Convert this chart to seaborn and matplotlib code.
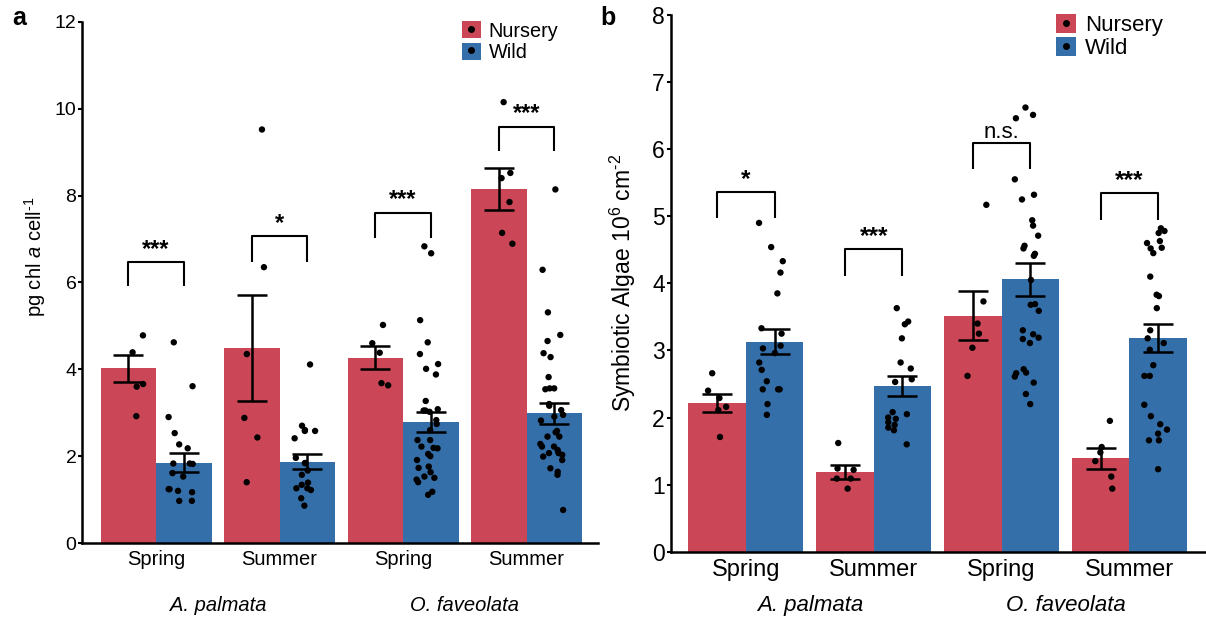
import numpy as np
import pandas as pd
import matplotlib
matplotlib.use('Agg')
import matplotlib.pyplot as plt
import seaborn as sns
from matplotlib.patches import Patch
from matplotlib.lines import Line2D

# ── data ─────────────────────────────────────────────────────────────────────
groups = ['Ap Spring', 'Ap Summer', 'Of Spring', 'Of Summer']
seasons = ['Spring', 'Summer', 'Spring', 'Summer']
species = ['A. palmata', 'O. faveolata']
sources = ['Nursery', 'Wild']

# panel a: pg chl a per cell
chl_mean_nursery = [4.02, 4.49, 4.27, 8.15]
chl_se_nursery = [0.31, 1.22, 0.27, 0.48]
chl_mean_wild = [1.85, 1.87, 2.79, 2.99]
chl_se_wild = [0.22, 0.17, 0.23, 0.24]
chl_pts_nursery = [
    [4.78, 4.39, 3.66, 3.60, 2.92],
    [9.52, 6.35, 4.35, 2.88, 2.43, 1.40],
    [5.02, 4.60, 4.38, 3.68, 3.63],
    [10.15, 8.52, 8.40, 7.85, 7.14, 6.89],
]
chl_pts_wild = [
    [4.62, 3.61, 2.90, 2.53, 2.27, 2.18, 1.83, 1.83, 1.82, 1.61, 1.53, 1.24,
     1.20, 1.24, 1.17, 0.97, 0.97],
    [4.11, 2.70, 2.60, 2.58, 2.58, 2.41, 1.96, 1.84, 1.84, 1.67, 1.57, 1.39,
     1.34, 1.26, 1.22, 1.26, 1.03, 0.86],
    [6.83, 6.67, 5.13, 4.62, 4.35, 4.12, 4.01, 3.88, 3.27, 3.08, 3.05, 3.05,
     3.02, 2.83, 2.74, 2.60, 2.37, 2.37, 2.22, 2.19, 2.18, 2.05, 2.00, 1.91,
     1.76, 1.73, 1.63, 1.53, 1.50, 1.46, 1.40, 1.18, 1.11],
    [8.14, 6.29, 5.31, 4.79, 4.65, 4.37, 4.28, 3.82, 3.56, 3.56, 3.54, 3.20,
     3.16, 3.06, 2.95, 2.91, 2.82, 2.58, 2.55, 2.45, 2.45, 2.28, 2.22, 2.22,
     2.14, 2.07, 2.07, 2.03, 1.99, 1.91, 1.72, 1.64, 1.57, 0.76],
]
chl_sig = ['***', '*', '***', '***']
chl_bracket_top = [6.47, 7.06, 7.60, 9.58]
chl_bracket_low = [5.92, 6.48, 7.02, 9.02]

# panel b: symbiotic algae 10^6 cm^-2
sym_mean_nursery = [2.22, 1.19, 3.52, 1.39]
sym_se_nursery = [0.135, 0.105, 0.365, 0.16]
sym_mean_wild = [3.13, 2.47, 4.06, 3.18]
sym_se_wild = [0.19, 0.15, 0.25, 0.21]
sym_pts_nursery = [
    [2.66, 2.40, 2.29, 2.16, 2.11, 1.71],
    [1.62, 1.24, 1.22, 1.09, 1.09, 0.94],
    [5.17, 3.73, 3.40, 3.25, 3.04, 2.62],
    [1.95, 1.56, 1.48, 1.35, 1.12, 0.94],
]
sym_pts_wild = [
    [4.90, 4.54, 4.33, 4.16, 3.85, 3.33, 3.25, 3.07, 3.03, 2.96, 2.82, 2.71,
     2.54, 2.42, 2.42, 2.42, 2.20, 2.04],
    [3.63, 3.43, 3.39, 3.18, 2.82, 2.73, 2.57, 2.53, 2.08, 2.05, 2.00, 1.98,
     1.93, 1.89, 1.85, 1.81, 1.60],
    [6.62, 6.51, 6.46, 5.55, 5.32, 5.25, 4.94, 4.86, 4.71, 4.56, 4.52, 4.44,
     4.41, 4.05, 3.69, 3.68, 3.59, 3.30, 3.24, 3.19, 3.17, 3.11, 2.72, 2.67,
     2.66, 2.61, 2.52, 2.35, 2.20],
    [4.82, 4.78, 4.75, 4.63, 4.60, 4.53, 4.52, 4.45, 4.10, 3.83, 3.81, 3.63,
     3.30, 3.18, 3.11, 3.01, 2.78, 2.62, 2.62, 2.19, 2.02, 1.90, 1.82, 1.76,
     1.66, 1.66, 1.23],
]
sym_sig = ['*', '***', 'n.s.', '***']
sym_bracket_top = [5.36, 4.51, 6.09, 5.34]
sym_bracket_low = [4.97, 4.11, 5.71, 4.95]

palette = {'Nursery': '#CB4656', 'Wild': '#346FA9'}

sns.set_style('white')
plt.rcParams['font.family'] = ['Liberation Sans', 'DejaVu Sans']
plt.rcParams['mathtext.fontset'] = 'custom'
plt.rcParams['mathtext.rm'] = 'Liberation Sans'
plt.rcParams['mathtext.it'] = 'Liberation Sans:italic'
for key in ['text.color', 'axes.labelcolor', 'xtick.color', 'ytick.color']:
    plt.rcParams[key] = 'black'


def draw_panel(ax, mean_n, se_n, mean_w, se_w, pts_n, pts_w, sig, br_top, br_low,
               fs_tick, fs_sig, capsize, seed):
    bar_df = pd.DataFrame({'group': groups * 2,
                           'source': ['Nursery'] * 4 + ['Wild'] * 4,
                           'value': mean_n + mean_w})
    sns.barplot(data=bar_df, x='group', y='value', hue='source', order=groups,
                hue_order=sources, palette=palette, width=0.9, errorbar=None,
                saturation=1, legend=False, ax=ax, zorder=1, linewidth=0)

    # bar centres from the drawn containers
    centres = {}
    for cont, src, se in zip(ax.containers, sources, [se_n, se_w]):
        bars = sorted(cont.patches, key=lambda b: b.get_x())
        xs = [b.get_x() + b.get_width() / 2 for b in bars]
        hs = [b.get_height() for b in bars]
        centres[src] = xs
        ax.errorbar(xs, hs, yerr=se, fmt='none', ecolor='black', elinewidth=1.8,
                    capsize=capsize, capthick=1.8, zorder=4)

    rows = []
    for g, pn, pw in zip(groups, pts_n, pts_w):
        rows += [(g, 'Nursery', v) for v in pn] + [(g, 'Wild', v) for v in pw]
    pt_df = pd.DataFrame(rows, columns=['group', 'source', 'value'])
    np.random.seed(seed)
    sns.stripplot(data=pt_df, x='group', y='value', hue='source', order=groups,
                  hue_order=sources, dodge=True, jitter=0.2,
                  palette={'Nursery': 'black', 'Wild': 'black'}, size=4.6,
                  linewidth=0, legend=False, ax=ax, zorder=5)

    # significance brackets
    for j in range(len(groups)):
        xl, xr = centres['Nursery'][j], centres['Wild'][j]
        ax.plot([xl, xl, xr, xr], [br_low[j], br_top[j], br_top[j], br_low[j]],
                color='black', lw=1.5, solid_capstyle='butt', zorder=6)
        ns = sig[j] == 'n.s.'
        ax.annotate(sig[j], ((xl + xr) / 2, br_top[j]), xytext=(0, 0 if ns else 1),
                    textcoords='offset points', ha='center', va='bottom',
                    fontsize=fs_sig - 1.5 if ns else fs_sig,
                    fontweight='normal' if ns else 'bold')

    ax.set_xticks(range(len(groups)))
    ax.set_xticklabels(seasons, fontsize=fs_tick)
    ax.set_xlabel('')
    for side in ['top', 'right']:
        ax.spines[side].set_visible(False)
    for side in ['left', 'bottom']:
        ax.spines[side].set_linewidth(1.8)
        ax.spines[side].set_color('black')
    ax.tick_params(axis='x', length=0, pad=5)
    ax.tick_params(axis='y', length=3, width=1.5, pad=1, direction='out',
                   left=True, labelsize=fs_tick - 0.5, colors='black')
    ax.set_facecolor('white')
    return centres


fig = plt.figure(figsize=(12.06, 6.22), dpi=100)
ax_a = fig.add_axes([0.068, 0.127, 0.428, 0.838])
ax_b = fig.add_axes([0.556, 0.113, 0.444, 0.863])

# ── panel a ──
ca = draw_panel(ax_a, chl_mean_nursery, chl_se_nursery, chl_mean_wild, chl_se_wild,
                chl_pts_nursery, chl_pts_wild, chl_sig, chl_bracket_top,
                chl_bracket_low, fs_tick=14.5, fs_sig=17, capsize=11, seed=4)
ax_a.set_ylim(0, 12)
ax_a.set_yticks(range(0, 13, 2))
ax_a.set_xlim(-0.6, 3.58)
ax_a.set_ylabel(r'pg chl $\it{a}$ cell$^{\text{-1}}$', fontsize=14.5)
ax_a.yaxis.set_label_coords(-0.066, 0.55)
for k, sp in enumerate(species):
    xm = (ca['Nursery'][2 * k] + ca['Wild'][2 * k + 1]) / 2
    ax_a.text(xm, -0.12, sp, transform=ax_a.get_xaxis_transform(), ha='center',
              va='center', fontsize=14.5, style='italic')

# ── panel b ──
cb = draw_panel(ax_b, sym_mean_nursery, sym_se_nursery, sym_mean_wild, sym_se_wild,
                sym_pts_nursery, sym_pts_wild, sym_sig, sym_bracket_top,
                sym_bracket_low, fs_tick=17, fs_sig=17.5, capsize=10.5, seed=11)
ax_b.set_ylim(0, 8)
ax_b.set_yticks(range(0, 9))
ax_b.set_xlim(-0.59, 3.6)
ax_b.set_ylabel(r'Symbiotic Algae 10$^{\text{6}}$ cm$^{\text{-2}}$', fontsize=16.5)
ax_b.yaxis.set_label_coords(-0.06, 0.5)
for k, sp in enumerate(species):
    xm = (cb['Nursery'][2 * k] + cb['Wild'][2 * k + 1]) / 2
    ax_b.text(xm, -0.10, sp, transform=ax_b.get_xaxis_transform(), ha='center',
              va='center', fontsize=16, style='italic')

# legends: coloured square with a black dot
handles = [(Patch(facecolor=palette[s], edgecolor='none'),
            Line2D([], [], ls='none', marker='o', color='black', markersize=4))
           for s in sources]
fig.legend(handles, sources, loc='upper left', bbox_to_anchor=(0.383, 0.966),
           frameon=False, fontsize=14.3, handlelength=0.95, handleheight=0.95,
           handletextpad=0.4, labelspacing=0.1, borderpad=0, borderaxespad=0)
fig.legend(handles, sources, loc='upper left', bbox_to_anchor=(0.876, 0.977),
           frameon=False, fontsize=16, handlelength=0.9, handleheight=0.9,
           handletextpad=0.4, labelspacing=0.05, borderpad=0, borderaxespad=0)

fig.text(0.010, 0.960, 'a', fontsize=18, fontweight='bold', va='baseline')
fig.text(0.498, 0.960, 'b', fontsize=18, fontweight='bold', va='baseline')

plt.savefig('out.png', dpi=100)
plt.close()
